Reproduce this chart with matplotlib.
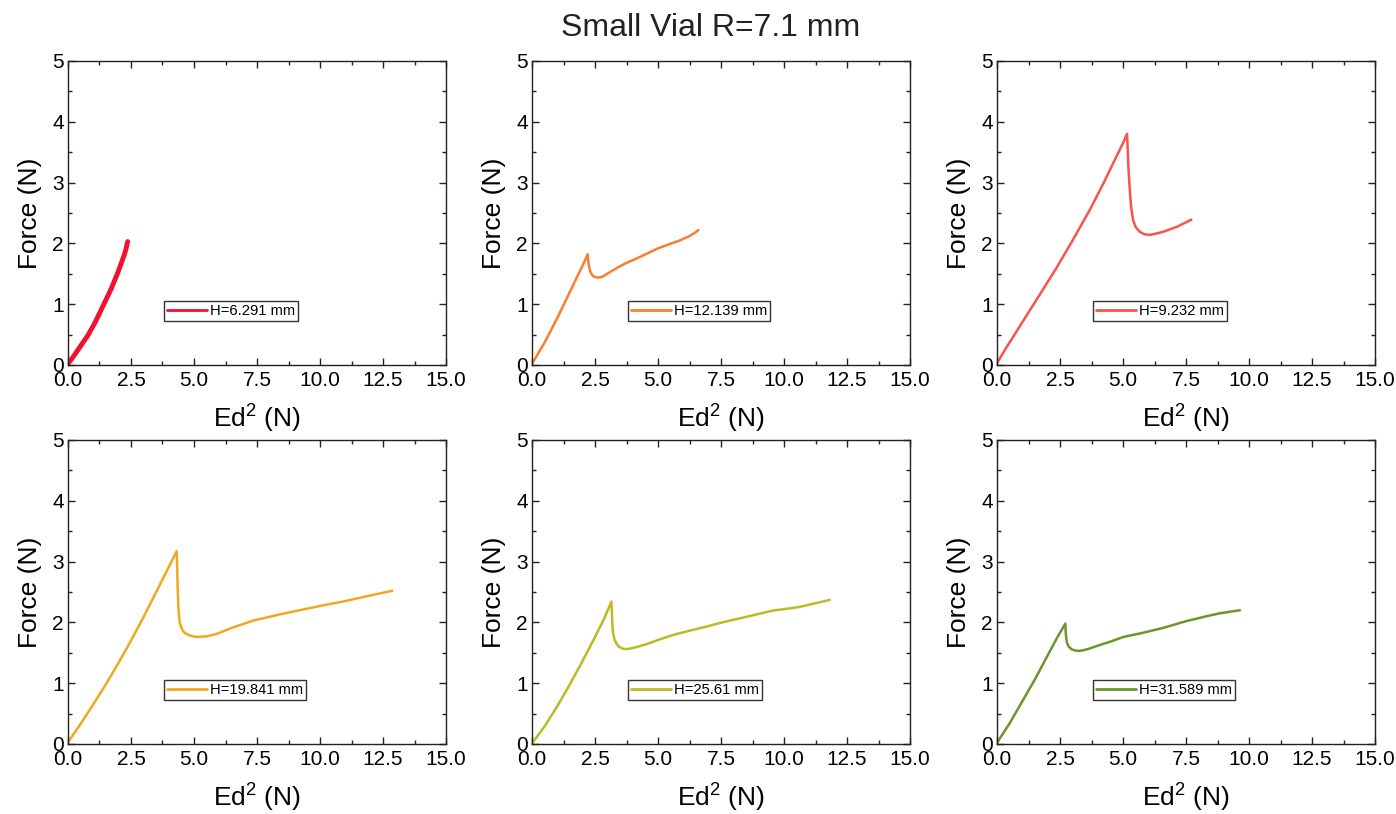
import matplotlib
matplotlib.use("Agg")
import matplotlib.pyplot as plt
from matplotlib.ticker import MultipleLocator

plt.rcParams['font.family'] = ['Liberation Sans', 'DejaVu Sans']

# Force vs Ed^2 curves for each fill height
h6_x = [0, 0.2, 0.48, 0.81, 1.1, 1.40, 1.7, 1.96, 2.12, 2.24, 2.31, 2.35, 2.37]
h6_y = [0.02, 0.13, 0.30, 0.50, 0.72, 0.98, 1.24, 1.50, 1.68, 1.82, 1.92, 2.00, 2.03]

h12_x = [0, 0.5, 1.0, 1.5, 2.0, 2.21, 2.23, 2.26, 2.31, 2.37, 2.46, 2.57,
         2.7, 2.83, 3.1, 3.43, 3.75, 4.09, 4.55, 5.01, 5.4, 5.81, 6.2, 6.45, 6.6]
h12_y = [0.02, 0.37, 0.77, 1.20, 1.63, 1.82, 1.72, 1.62, 1.54, 1.49, 1.45, 1.44,
         1.44, 1.46, 1.53, 1.61, 1.68, 1.74, 1.83, 1.92, 1.98, 2.04, 2.11, 2.17, 2.22]

h9_x = [0, 0.3, 0.65, 1.03, 1.7, 2.35, 3.0, 3.68, 4.2, 4.74, 5.0, 5.16, 5.19, 5.22, 5.26, 5.32,
        5.40, 5.5, 5.66, 5.85, 6.06, 6.3, 6.59, 6.85, 7.12, 7.42, 7.71]
h9_y = [0.03, 0.24, 0.47, 0.72, 1.16, 1.59, 2.05, 2.55, 2.97, 3.43, 3.65, 3.80, 3.50, 3.20, 2.93, 2.60,
        2.38, 2.27, 2.19, 2.15, 2.14, 2.16, 2.19, 2.23, 2.27, 2.33, 2.39]

h19_x = [0, 0.5, 1.0, 1.5, 2.0, 2.5, 3.0, 3.5, 4.0, 4.31, 4.33, 4.35, 4.38, 4.42, 4.48, 4.56,
         4.66, 4.85, 5.11, 5.5, 5.9, 6.5, 7.35, 8.5, 10.0, 11.0, 11.85, 12.87]
h19_y = [0.03, 0.33, 0.65, 0.98, 1.33, 1.70, 2.09, 2.50, 2.91, 3.17, 2.95, 2.60, 2.25, 2.04, 1.93, 1.86,
         1.82, 1.78, 1.76, 1.77, 1.81, 1.91, 2.03, 2.14, 2.27, 2.35, 2.43, 2.52]

h25_x = [0, 0.5, 1.0, 1.5, 2.0, 2.5, 2.85, 3.15, 3.17, 3.19, 3.22, 3.27, 3.35, 3.45,
         3.58, 3.72, 3.9, 4.21, 4.6, 5.0, 5.65, 6.32, 7.0, 7.65, 8.6, 9.5, 10.56, 11.2, 11.81]
h25_y = [0.01, 0.29, 0.62, 0.98, 1.36, 1.76, 2.05, 2.34, 2.15, 1.95, 1.82, 1.72, 1.65, 1.60,
         1.57, 1.56, 1.57, 1.60, 1.65, 1.71, 1.80, 1.87, 1.94, 2.01, 2.10, 2.19, 2.25, 2.31, 2.37]

h31_x = [0, 0.5, 1.0, 1.5, 2.0, 2.4, 2.71, 2.72, 2.74, 2.78, 2.85, 2.95, 3.08, 3.23, 3.4, 3.6,
         4.09, 4.55, 5.01, 5.8, 6.6, 7.5, 8.3, 8.85, 9.64]
h31_y = [0.02, 0.34, 0.70, 1.06, 1.45, 1.76, 1.98, 1.88, 1.76, 1.66, 1.60, 1.56, 1.54, 1.53, 1.54,
         1.56, 1.63, 1.69, 1.76, 1.83, 1.91, 2.02, 2.10, 2.15, 2.20]

labels = ['H=6.291 mm', 'H=12.139 mm', 'H=9.232 mm',
          'H=19.841 mm', 'H=25.61 mm', 'H=31.589 mm']
colors = ['#F2102E', '#F97E2E', '#F8534E', '#F0A823', '#BABB26', '#6C962A']
xs = [h6_x, h12_x, h9_x, h19_x, h25_x, h31_x]
ys = [h6_y, h12_y, h9_y, h19_y, h25_y, h31_y]
widths = [3.5, 1.8, 1.8, 1.8, 1.8, 1.8]

fig = plt.figure(figsize=(13.96, 8.14), dpi=100)

lefts = [0.0487, 0.3811, 0.7142]
bottoms = [0.5516, 0.0860]
w, h = 0.2708, 0.3735

for i in range(6):
    ax = fig.add_axes([lefts[i % 3], bottoms[i // 3], w, h])
    ax.plot(xs[i], ys[i], color=colors[i], lw=widths[i], label=labels[i],
            solid_capstyle='round', solid_joinstyle='round')

    ax.set_xlim(0, 15)
    ax.set_ylim(0, 5)
    ax.xaxis.set_major_locator(MultipleLocator(2.5))
    ax.xaxis.set_minor_locator(MultipleLocator(1.25))
    ax.yaxis.set_major_locator(MultipleLocator(1))
    ax.yaxis.set_minor_locator(MultipleLocator(0.5))
    ax.set_xticklabels([f'{v:.1f}' for v in ax.get_xticks()])

    ax.tick_params(which='both', direction='in', top=True, right=True,
                   color='#222222', width=1)
    ax.tick_params(which='major', length=5, labelsize=15)
    ax.tick_params(axis='x', which='major', pad=4)
    ax.tick_params(axis='y', which='major', pad=3)
    ax.tick_params(which='minor', length=3)
    for s in ax.spines.values():
        s.set_color('#222222')
        s.set_linewidth(1)

    ax.set_xlabel(r'Ed$^{\mathregular{2}}$ (N)', fontsize=19, labelpad=8)
    ax.set_ylabel('Force (N)', fontsize=19, labelpad=7)

    leg = ax.legend(loc='center left', bbox_to_anchor=(0.254, 0.178),
                    borderaxespad=0, fontsize=10.6, handlelength=2.7,
                    handletextpad=0.2, borderpad=0.2, fancybox=False,
                    framealpha=1, edgecolor='#333333')
    leg.get_frame().set_linewidth(1)
    leg.get_lines()[0].set_linewidth(2)

fig.text(0.509, 0.9656, 'Small Vial R=7.1 mm', ha='center', va='center',
         fontsize=23, color='#222222')

fig.savefig('out.png', dpi=100)
